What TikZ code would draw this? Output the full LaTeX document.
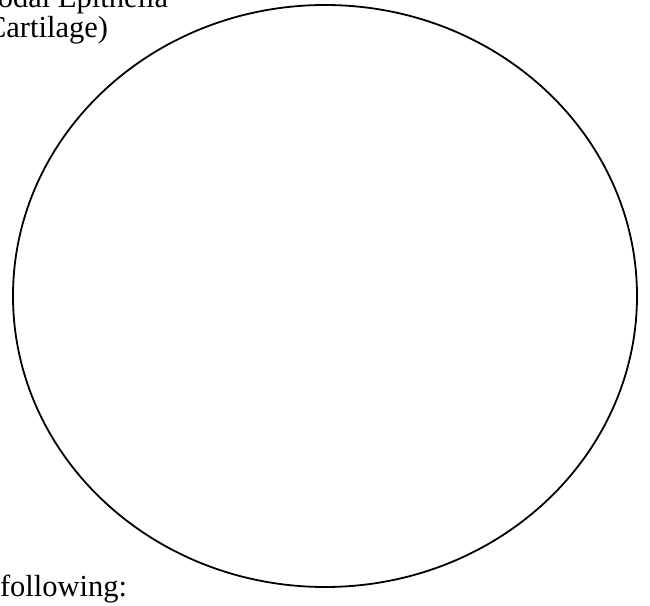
\documentclass[tikz,border=0pt]{standalone}
\usepackage{fontspec}
\setmainfont{Liberation Serif}
\begin{document}
\begin{tikzpicture}[x=1pt,y=1pt,
  lbl/.style={inner sep=0pt,outer sep=0pt,font=\fontsize{30.5}{33}\selectfont},
  outline/.style={draw=black,line width=1.8pt}]
\clip (0,0) rectangle (650,605);
\node[lbl,anchor=base east] (t1) at (168,597) {odal Epithelia};
\node[lbl,anchor=base east] (t2) at (108,567) {Cartilage)};
\node[lbl,anchor=base west] (t3) at (0,9) {following:};
\draw[outline] (325,309) ellipse [x radius=312,y radius=291];
\end{tikzpicture}
\end{document}
